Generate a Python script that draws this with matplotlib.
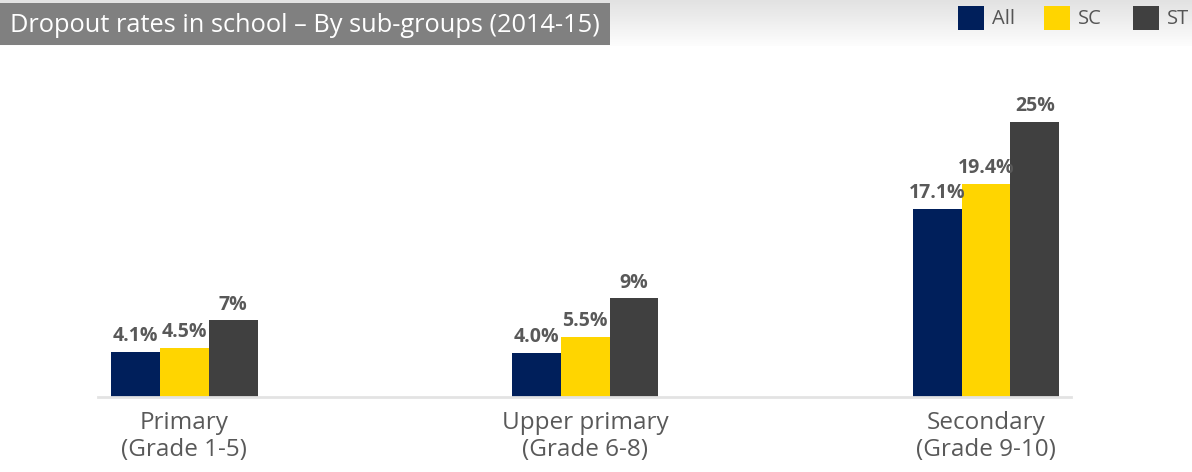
import numpy as np
import matplotlib
matplotlib.use("Agg")
import matplotlib.pyplot as plt
from matplotlib.patches import Rectangle

categories = ["Primary\n(Grade 1-5)", "Upper primary\n(Grade 6-8)", "Secondary\n(Grade 9-10)"]
series_names = ["All", "SC", "ST"]
all_vals = [4.1, 4.0, 17.1]
sc_vals = [4.5, 5.5, 19.4]
st_vals = [7, 9, 25]
value_labels = [["4.1%", "4.0%", "17.1%"], ["4.5%", "5.5%", "19.4%"], ["7%", "9%", "25%"]]
title = "Dropout rates in school – By sub-groups (2014-15)"
colors = ["#001f5b", "#ffd500", "#404040"]

W, H = 1192, 472
fig = plt.figure(figsize=(W / 100, H / 100), dpi=100)
fig.patch.set_facecolor("white")
plt.rcParams["font.family"] = ["Open Sans", "DejaVu Sans"]

# header gradient band
hax = fig.add_axes([0, 1 - 46 / H, 1, 46 / H])
grad = np.linspace(0, 1, 50).reshape(-1, 1)
hax.imshow(grad, aspect="auto", cmap=matplotlib.colors.LinearSegmentedColormap.from_list(
    "g", ["#e2e2e2", "#fdfdfd"]), extent=[0, 1, 0, 1], origin="upper")
hax.set_axis_off()

# title box
fig.patches.append(Rectangle((0, 1 - 45 / H), 610 / W, 42 / H, transform=fig.transFigure,
                             facecolor="#808080", edgecolor="none", zorder=2))
fig.text(10 / W, 1 - 25 / H, title, color="white", fontsize=18.3, va="center", ha="left", zorder=3)

# legend
leg_x = [958, 1044, 1133]
for x, name, c in zip(leg_x, series_names, colors):
    fig.patches.append(Rectangle((x / W, 1 - 30 / H), 26 / W, 24 / H, transform=fig.transFigure,
                                 facecolor=c, edgecolor="none", zorder=3))
    fig.text((x + 34) / W, 1 - 19 / H, name, color="#555555", fontsize=14.5, va="center", ha="left")

# main axes
ax_left, ax_right = 98, 1071
ax_bottom = 397
ax_top = 60
ax = fig.add_axes([ax_left / W, 1 - ax_bottom / H, (ax_right - ax_left) / W, (ax_bottom - ax_top) / H])
x = np.arange(len(categories))
bw = 0.122
series = [all_vals, sc_vals, st_vals]
for i, (vals, c) in enumerate(zip(series, colors)):
    pos = x + (i - 1) * bw
    ax.bar(pos, vals, width=bw, color=c, zorder=2)
    for p, v, lab in zip(pos, vals, value_labels[i]):
        ax.text(p, v + 0.5, lab, ha="center", va="bottom", fontsize=14, fontweight="bold",
                color="#595959")

ax.set_xlim(-0.215, 2.212)
ax.set_ylim(0, (ax_bottom - ax_top) / 11.0)
for s in ["top", "left", "right"]:
    ax.spines[s].set_visible(False)
ax.spines["bottom"].set_color("#e3e3e3")
ax.spines["bottom"].set_linewidth(2)
ax.set_yticks([])
ax.set_xticks(x)
ax.set_xticklabels(categories, fontsize=17.5, color="#595959", linespacing=1.15)
ax.tick_params(axis="x", length=0, pad=10)

fig.savefig("out.png", dpi=100, facecolor="white")
